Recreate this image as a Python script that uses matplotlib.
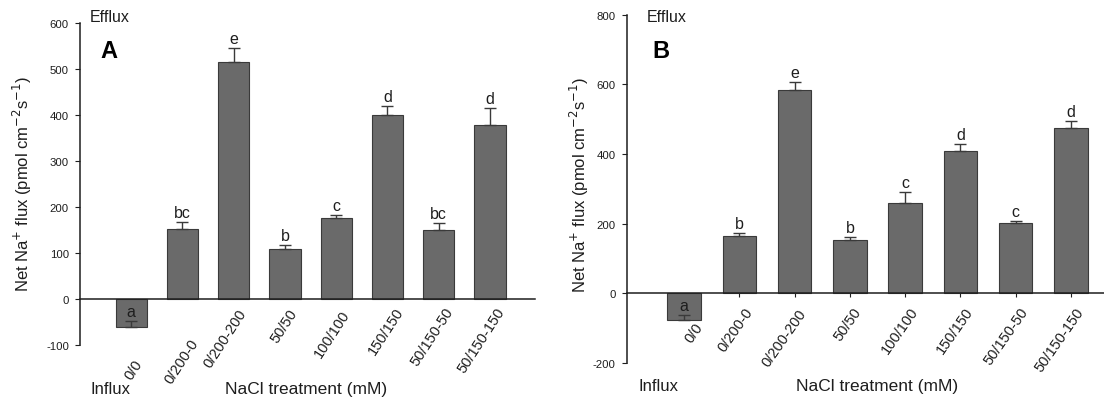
import matplotlib
matplotlib.use("Agg")
import matplotlib.pyplot as plt
import numpy as np

plt.rcParams.update({"font.family": ["Liberation Sans", "DejaVu Sans"],
                     "axes.unicode_minus": False})

treatments = ["0/0", "0/200-0", "0/200-200", "50/50", "100/100",
              "150/150", "50/150-50", "50/150-150"]

flux_a = [-62, 152, 515, 108, 175, 399, 149, 379]
err_a = [13, 14, 31, 8, 8, 21, 15, 36]
sig_a = ["a", "bc", "e", "b", "c", "d", "bc", "d"]

flux_b = [-76, 165, 584, 154, 260, 410, 203, 474]
err_b = [14, 9, 24, 8, 30, 19, 4, 22]
sig_b = ["a", "b", "e", "b", "c", "d", "c", "d"]

BAR = "#6a6a6a"; EDGE = "#3a3a3a"; INK = "#1e1e1e"
W, H = 1104, 402
PX = 0.72  # points per pixel at 100 dpi

fig = plt.figure(figsize=(11.04, 4.02), dpi=100)
axA = fig.add_axes([80 / W, 1 - 345.7 / H, (535 - 80) / W, (345.7 - 24) / H])
axB = fig.add_axes([626.7 / W, 1 - 364 / H, (1104 - 626.7) / W, (364 - 15.7) / H])

# label anchor shifts below the zero line, in pixels (dx, dy)
lab_a = [(2, -58), (7, -37), (4, -7), (3, -7), (5, -9), (7, -6), (6, -6), (6, -6)]
lab_b = [(10, -26), (5, -11), (3, -13), (3, -11), (4, -11), (4, -11), (4, -11), (4, -11)]


def panel(ax, vals, errs, sigs, ylim, yticks, xlim, shifts, rot, xtick_len):
    x = np.arange(len(treatments))
    ax.bar(x, vals, width=0.61, color=BAR, edgecolor=EDGE, linewidth=0.8, zorder=2)
    ax.errorbar(x, vals, yerr=[np.zeros(len(errs)), errs], fmt="none",
                ecolor=EDGE, elinewidth=1, capsize=4.4, capthick=1, zorder=3)
    for xi, v, e, s in zip(x, vals, errs, sigs):
        ax.annotate(s, (xi, v + e), xytext=(0, 3.6), textcoords="offset points",
                    ha="center", va="baseline", fontsize=11.5, color=INK)
    for xi, name, (dx, dy) in zip(x, treatments, shifts):
        ax.annotate(name, (xi, 0), xytext=(dx * PX, dy * PX), textcoords="offset points",
                    ha="right", va="top", rotation=rot, rotation_mode="anchor",
                    fontsize=10.5, color=INK, annotation_clip=False)
    ax.set_xlim(*xlim)
    ax.set_ylim(*ylim)
    ax.set_yticks(yticks)
    ax.spines["top"].set_visible(False)
    ax.spines["right"].set_visible(False)
    ax.spines["bottom"].set_position(("data", 0))
    for sp in ("left", "bottom"):
        ax.spines[sp].set_color(INK)
        ax.spines[sp].set_linewidth(1.1)
    ax.set_xticks(x)
    ax.set_xticklabels([])
    ax.tick_params(axis="x", length=xtick_len, direction="out", colors=INK)
    ax.tick_params(axis="y", length=3.5, direction="out", pad=4.5, labelsize=8.2, colors=INK)
    ax.patch.set_alpha(0)


panel(axA, flux_a, err_a, sig_a, (-100, 600), range(-100, 601, 100), (-1.0, 7.88),
      lab_a, 57, 0)
panel(axB, flux_b, err_b, sig_b, (-200, 800), range(-200, 801, 200), (-1.04, 7.6),
      lab_b, 55, 3)

ylab = "Net Na$^{+}$ flux (pmol cm$^{-2}$s$^{-1}$)"
fig.text(22 / W, 1 - 184 / H, ylab, rotation=90, ha="center", va="center", fontsize=12, color=INK)
fig.text(579 / W, 1 - 185 / H, ylab, rotation=90, ha="center", va="center", fontsize=12, color=INK)

for xl, xb, xi, yi, xn, letter in [(90, 100, 90, 390, 306, "A"),
                                   (647, 652, 639, 387, 877, "B")]:
    fig.text(xl / W, 1 - 18 / H, "Efflux", ha="left", va="center", fontsize=11.5, color=INK)
    fig.text(xb / W, 1 - 52 / H, letter, ha="left", va="center", fontsize=17,
             fontweight="bold", color="black")
    fig.text(xi / W, 1 - yi / H, "Influx", ha="left", va="center", fontsize=12, color=INK)
    fig.text(xn / W, 1 - yi / H, "NaCl treatment (mM)", ha="center", va="center",
             fontsize=12.5, color=INK)

fig.savefig("out.png", dpi=100, facecolor="white")
